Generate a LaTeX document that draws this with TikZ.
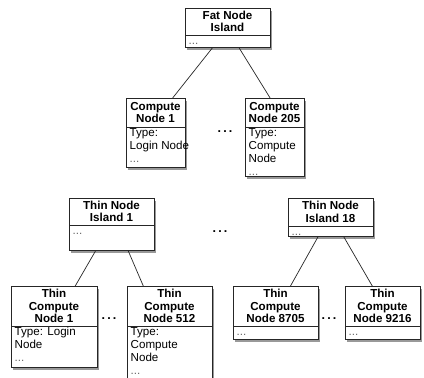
\documentclass[tikz,border=0pt]{standalone}
\usepackage{fontspec}
\setmainfont{Liberation Sans}
\usetikzlibrary{shadows,calc}
\tikzset{
  boxst/.style={draw=black!85, fill=white, line width=0.8pt, inner sep=0pt,
    drop shadow={shadow xshift=1.2pt, shadow yshift=-2.8pt, fill=black, opacity=0.4}},
  divst/.style={draw=black!85, line width=0.8pt},
  titlest/.style={align=center, inner sep=0pt, font=\bfseries\fontsize{11.6}{12.6}\selectfont},
  bodyst/.style={align=left, inner sep=0pt, anchor=north west, font=\fontsize{11.6}{13}\selectfont},
  dotsst/.style={inner sep=0pt, font=\bfseries\fontsize{12.5}{13}\selectfont},
  conn/.style={draw=black!85, line width=0.7pt}
}
\newcommand\mybox[8]{%
  \pgfmathsetmacro\bw{#4-#2}\pgfmathsetmacro\bh{#6-#3}%
  \node[boxst, minimum width=\bw pt, minimum height=\bh pt, anchor=north west] (#1) at (#2,#3) {};
  \draw[divst] (#2,#5) -- (#4,#5);
  \node[titlest] (#1-t) at ({(#2+#4)/2},{(#3+#5)/2}) {#7};
  \node[bodyst] (#1-b) at (#2+3.5,#5+1.2) {\rule{0pt}{8pt}#8};
}
\newcommand\dd{\textcolor{black!60}{...}}
\begin{document}
\begin{tikzpicture}[x=1pt,y=-1pt]
\useasboundingbox (0,0) rectangle (424,378);
\clip (0,0) rectangle (424,378);
\fill[white] (0,0) rectangle (424,378);
\mybox{fat}{185}{8}{270}{35}{47}{Fat Node\\Island}{\dd}
\mybox{cn1}{126}{98}{185}{127}{167}{Compute\\Node 1}{Type:\\Login Node\\\dd}
\mybox{cn205}{245}{98}{304}{127}{176}{Compute\\Node 205}{Type:\\Compute\\Node\\\dd}
\mybox{tni1}{69}{198}{154}{225}{250}{Thin Node\\Island 1}{\dd}
\mybox{tni18}{288}{198}{373}{226}{236}{Thin Node\\Island 18}{\dd}
\mybox{tcn1}{11}{286}{97}{326}{367}{Thin\\Compute\\Node 1}{Type: Login\\Node\\\dd}
\mybox{tcn512}{127}{286}{212}{326}{388}{Thin\\Compute\\Node 512}{Type:\\Compute\\Node\\\dd}
\mybox{t8705}{233}{286}{318}{326}{339}{Thin\\Compute\\Node 8705}{\dd}
\mybox{t9216}{345}{286}{420}{326}{339}{Thin\\Compute\\Node 9216}{\dd}
\draw[conn] ($(fat.south west)!0.32!(fat.south east)$) -- ($(cn1.north west)!0.78!(cn1.north east)$);
\draw[conn] ($(fat.south west)!0.63!(fat.south east)$) -- ($(cn205.north west)!0.42!(cn205.north east)$);
\draw[conn] ($(tni1.south west)!0.31!(tni1.south east)$) -- ($(tcn1.north west)!0.74!(tcn1.north east)$);
\draw[conn] ($(tni1.south west)!0.69!(tni1.south east)$) -- ($(tcn512.north west)!0.19!(tcn512.north east)$);
\draw[conn] ($(tni18.south west)!0.35!(tni18.south east)$) -- ($(t8705.north west)!0.67!(t8705.north east)$);
\draw[conn] ($(tni18.south west)!0.65!(tni18.south east)$) -- ($(t9216.north west)!0.36!(t9216.north east)$);
\node[dotsst] (d1) at (225,132) {.\hspace{2.2pt}.\hspace{2.2pt}.};
\node[dotsst] (d2) at (220,232) {.\hspace{2.2pt}.\hspace{2.2pt}.};
\node[dotsst] (d3) at (109,319) {.\hspace{2.2pt}.\hspace{2.2pt}.};
\node[dotsst] (d4) at (329,319) {.\hspace{2.2pt}.\hspace{2.2pt}.};
\end{tikzpicture}
\end{document}
